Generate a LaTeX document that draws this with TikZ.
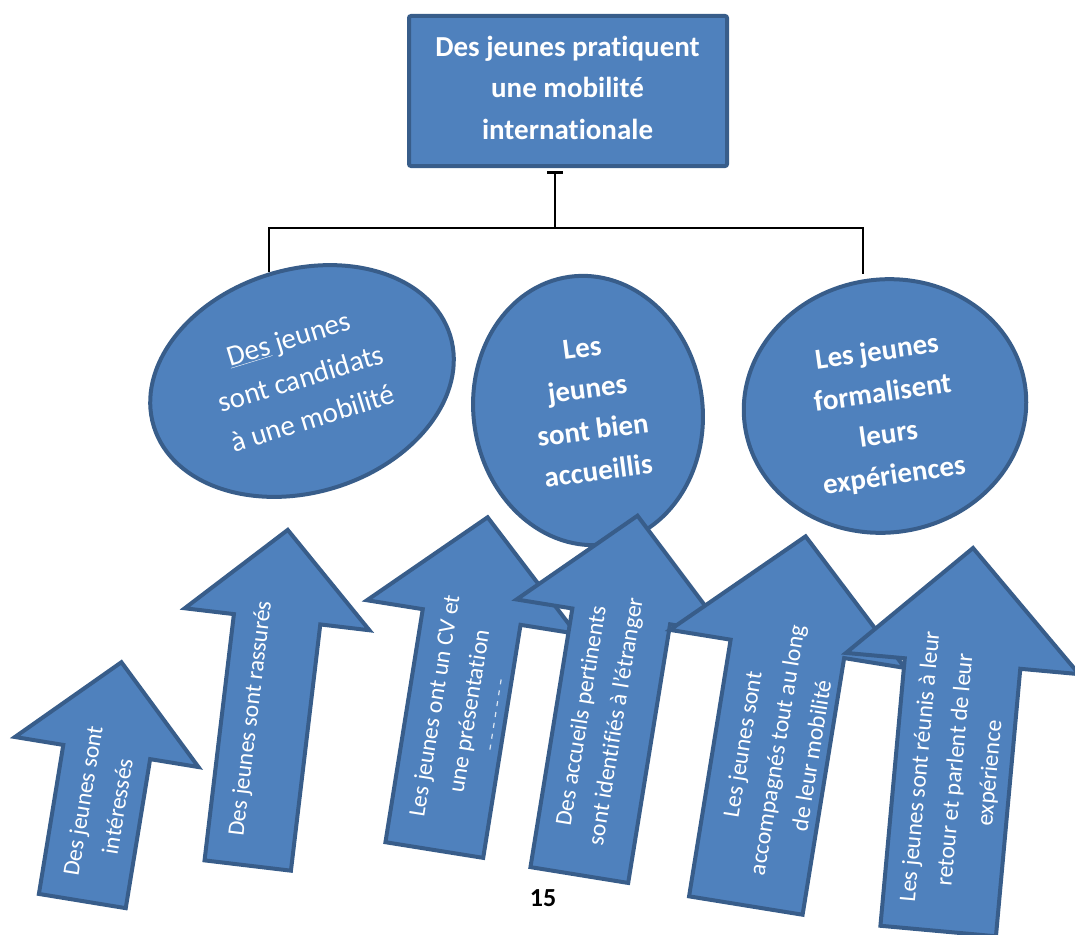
\documentclass[tikz,border=0pt]{standalone}
\usepackage{fontspec}
\setmainfont{Carlito}[Ligatures=NoCommon]
\usetikzlibrary{shapes.geometric,arrows.meta}
\definecolor{boxfill}{RGB}{79,129,189}
\definecolor{boxline}{RGB}{56,93,138}
\begin{document}
\begin{tikzpicture}[x=1pt,y=1pt,
  shapestyle/.style={fill=boxfill,draw=boxline,line width=4pt,line join=miter},
  topbox/.style={shapestyle,rectangle,rounded corners=2pt,minimum width=318pt,minimum height=150pt,inner sep=0pt},
  ell/.style={shapestyle,ellipse,inner sep=0pt},
  etxt/.style={text=white,align=center,inner sep=0pt,font={\fontsize{29}{41.5}\selectfont}},
  betxt/.style={etxt,font={\bfseries\fontsize{29}{41.5}\selectfont}},
  atxt/.style={text=white,align=center,inner sep=0pt,font={\fontsize{23.7}{35}\selectfont}},
  conn/.style={draw=black,line width=2pt}]
\useasboundingbox (0,0) rectangle (1075,-934);

% top box
\node[topbox] (top) at (568,-91) {};
\node[betxt] (toptxt) at (567.5,-87.5) {Des jeunes pratiquent\\une mobilité\\internationale};

% connectors
\coordinate (hub) at (555,-228);
\coordinate (l1) at (269,-272);
\coordinate (r3) at (863,-274);
\draw[conn] (l1) |- (hub) -| (r3);
\draw[conn,-{Bar[width=16pt,line width=3pt]},shorten >=3pt] (hub) -- (hub |- top.south);

% ellipses
\node[ell,minimum width=310pt,minimum height=223pt,rotate=17] (e1) at (302,-381) {};
\node[ell,minimum width=229pt,minimum height=270pt,rotate=8] (e2) at (588,-410.5) {};
\node[ell,minimum width=283pt,minimum height=253pt,rotate=8] (e3) at (885,-406) {};
\node[etxt,rotate=17] (t1) at (300.7,-378.3) {\underline{Des} jeunes\\sont candidats\\à une mobilité};
\node[betxt,rotate=7.5] (t2) at (590.2,-409.6) {Les\\jeunes\\sont bien\\accueillis};
\node[betxt,rotate=8] (t3) at (885.7,-414.6) {Les jeunes\\formalisent\\leurs\\expériences};

% arrow 1
\begin{scope}[shift={(82,-903)},rotate=-9.3]
\draw[shapestyle] (-44,2) -- (-44,153) -- (-93,153) -- (0,244) -- (93,153) -- (44,153) -- (44,2) -- cycle;
\node[atxt,rotate=80.7] (a1) at (1.7,101) {Des jeunes sont\\intéressés};
\end{scope}
% arrow 2
\begin{scope}[shift={(247.5,-867.5)},rotate=-6.8]
\draw[shapestyle] (-43.5,2) -- (-43.5,250) -- (-93,250) -- (0,340) -- (93,250) -- (43.5,250) -- (43.5,2) -- cycle;
\node[atxt,rotate=83.2] (a2) at (-14,148.4) {Des jeunes sont rassurés};
\end{scope}
% arrow 3
\begin{scope}[shift={(434,-852)},rotate=-9.1]
\draw[shapestyle] (-49.5,2) -- (-49.5,238) -- (-106,238) -- (0,339) -- (106,238) -- (49.5,238) -- (49.5,2) -- cycle;
\node[atxt,rotate=80.9] (a3) at (-3.9,144.4) {Les jeunes ont un CV et\\une présentation};
\draw[white,opacity=0.8,line width=1.2pt,dash pattern=on 5pt off 6pt] (39,110) -- (39,182);
\end{scope}
% arrow 4
\begin{scope}[shift={(579,-877)},rotate=-9.2]
\draw[shapestyle] (-49.5,2) -- (-49.5,264) -- (-106,264) -- (0,366) -- (106,264) -- (49.5,264) -- (49.5,2) -- cycle;
\node[atxt,rotate=80.8] (a4) at (-5.1,159.4) {Des accueils pertinents\\sont identifiés à l’étranger};
\end{scope}
% arrow 5
\begin{scope}[shift={(745.5,-907.5)},rotate=-9.2]
\draw[shapestyle] (-57.5,2) -- (-57.5,262) -- (-119,262) -- (0,376) -- (119,262) -- (57.5,262) -- (57.5,2) -- cycle;
\node[atxt,rotate=80.8] (a5) at (5.6,160.5) {Les jeunes sont\\accompagnés tout au long\\de leur mobilité};
\end{scope}
% arrow 6
\begin{scope}[shift={(938,-933)},rotate=-5.2]
\draw[shapestyle] (-58,2) -- (-58,270.6) -- (-117,270.6) -- (0,386.6) -- (117,270.6) -- (58,270.6) -- (58,2) -- cycle;
\node[atxt,rotate=84.8] (a6) at (2.8,163.9) {Les jeunes sont réunis à leur\\retour et parlent de leur\\expérience};
\end{scope}

% page number
\node[font={\bfseries\fontsize{26}{30}\selectfont},inner sep=0pt] (pn) at (543,-898) {15};
\end{tikzpicture}
\end{document}
